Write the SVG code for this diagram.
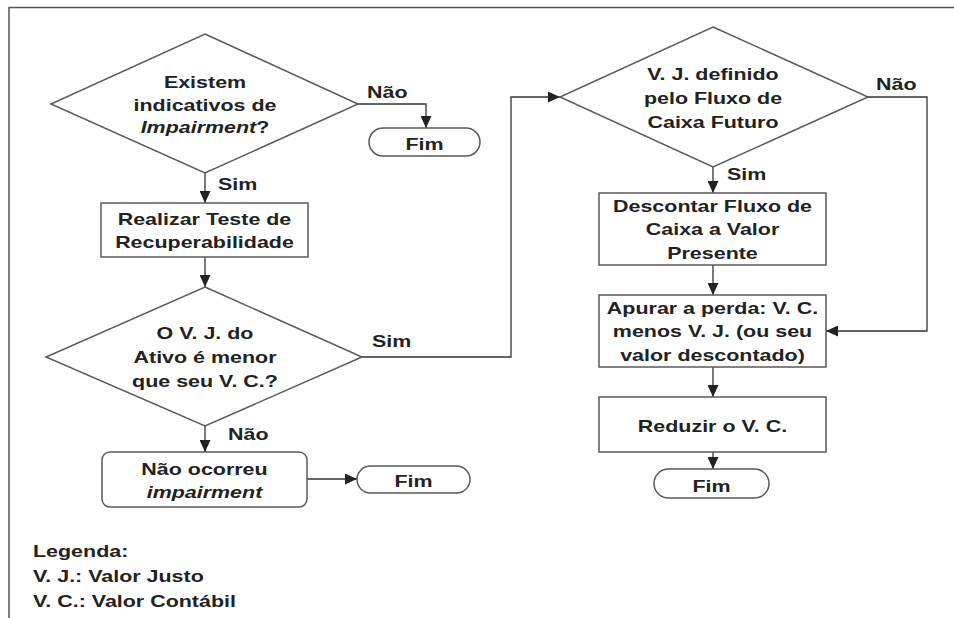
<svg xmlns="http://www.w3.org/2000/svg" width="954" height="618" viewBox="0 0 954 618">
<style>
.shape{fill:#fff;stroke:#5a5a5a;stroke-width:1.5}
.conn{fill:none;stroke:#333;stroke-width:1.3}
.t{font-family:"Liberation Sans",Arial,sans-serif;font-weight:bold;font-size:16.5px;fill:#222;text-anchor:middle}
.l{font-family:"Liberation Sans",Arial,sans-serif;font-weight:bold;font-size:16.5px;fill:#222;text-anchor:start}
.it{font-style:italic}
</style>
<defs>
<marker id="arr" markerUnits="userSpaceOnUse" markerWidth="13" markerHeight="11" refX="12" refY="5.5" orient="auto">
<path d="M0,0 L12,5.5 L0,11 z" fill="#222"/>
</marker>
</defs>
<rect width="954" height="618" fill="#fff"/>
<path d="M9,620 L9,7.5 L960,7.5" fill="none" stroke="#555" stroke-width="1.5"/>

<g id="connectors">
<path class="conn" d="M358,104 H426 V128" marker-end="url(#arr)"/>
<path class="conn" d="M205,173 V203" marker-end="url(#arr)"/>
<path class="conn" d="M205,257 V287" marker-end="url(#arr)"/>
<path class="conn" d="M362,357 H511 V97 H560" marker-end="url(#arr)"/>
<path class="conn" d="M205,426 V452" marker-end="url(#arr)"/>
<path class="conn" d="M307,479 H357" marker-end="url(#arr)"/>
<path class="conn" d="M868,97 H927 V331 H826" marker-end="url(#arr)"/>
<path class="conn" d="M713,167 V193" marker-end="url(#arr)"/>
<path class="conn" d="M713,265 V295" marker-end="url(#arr)"/>
<path class="conn" d="M713,367 V397" marker-end="url(#arr)"/>
<path class="conn" d="M713,452 V469" marker-end="url(#arr)"/>
<text class="l" transform="matrix(1.3 0 0 1 367 98)">Não</text>
<text class="l" transform="matrix(1.3 0 0 1 218 190)">Sim</text>
<text class="l" transform="matrix(1.3 0 0 1 372 347)">Sim</text>
<text class="l" transform="matrix(1.3 0 0 1 876 90)">Não</text>
<text class="l" transform="matrix(1.3 0 0 1 727 180)">Sim</text>
<text class="l" transform="matrix(1.3 0 0 1 228 440)">Não</text>
</g>

<g id="d1">
<polygon class="shape" points="205,34 358,104 205,173 51,104"/>
<text class="t" transform="matrix(1.3 0 0 1 205 88)"><tspan x="0">Existem</tspan><tspan x="0" dy="22.7">indicativos de</tspan><tspan x="0" dy="22.7"><tspan class="it">Impairment</tspan>?</tspan></text>
</g>
<g id="fim1">
<rect class="shape" x="369" y="128" width="111" height="28" rx="14"/>
<text class="t" transform="matrix(1.3 0 0 1 424.5 150)">Fim</text>
</g>
<g id="realizar">
<rect class="shape" x="101" y="203" width="207" height="54"/>
<text class="t" transform="matrix(1.3 0 0 1 204.5 225)"><tspan x="0">Realizar Teste de</tspan><tspan x="0" dy="23.5">Recuperabilidade</tspan></text>
</g>
<g id="d2">
<polygon class="shape" points="205,287 362,357 205,426 46,357"/>
<text class="t" transform="matrix(1.3 0 0 1 205 339)"><tspan x="0">O V. J. do</tspan><tspan x="0" dy="23.8">Ativo é menor</tspan><tspan x="0" dy="23.8">que seu V. C.?</tspan></text>
</g>
<g id="naoocorreu">
<rect class="shape" x="102" y="452" width="205" height="55" rx="8"/>
<text class="t" transform="matrix(1.3 0 0 1 204.5 475)"><tspan x="0">Não ocorreu</tspan><tspan x="0" dy="23.5" class="it">impairment</tspan></text>
</g>
<g id="fim2">
<rect class="shape" x="357" y="466" width="113" height="27" rx="13.5"/>
<text class="t" transform="matrix(1.3 0 0 1 413.5 487)">Fim</text>
</g>
<g id="d3">
<polygon class="shape" points="713,27 868,97 713,167 560,97"/>
<text class="t" transform="matrix(1.3 0 0 1 713 80)"><tspan x="0">V. J. definido</tspan><tspan x="0" dy="24">pelo Fluxo de</tspan><tspan x="0" dy="24">Caixa Futuro</tspan></text>
</g>
<g id="descontar">
<rect class="shape" x="599" y="193" width="227" height="72"/>
<text class="t" transform="matrix(1.3 0 0 1 712.5 212)"><tspan x="0">Descontar Fluxo de</tspan><tspan x="0" dy="23.5">Caixa a Valor</tspan><tspan x="0" dy="23.5">Presente</tspan></text>
</g>
<g id="apurar">
<rect class="shape" x="599" y="295" width="227" height="72"/>
<text class="t" transform="matrix(1.3 0 0 1 712.5 314)"><tspan x="0">Apurar a perda: V. C.</tspan><tspan x="0" dy="23.5">menos V. J. (ou seu</tspan><tspan x="0" dy="23.5">valor descontado)</tspan></text>
</g>
<g id="reduzir">
<rect class="shape" x="599" y="397" width="227" height="55"/>
<text class="t" transform="matrix(1.3 0 0 1 712.5 432)">Reduzir o V. C.</text>
</g>
<g id="fim3">
<rect class="shape" x="654" y="469" width="115" height="29" rx="14.5"/>
<text class="t" transform="matrix(1.3 0 0 1 711.5 492)">Fim</text>
</g>
<g id="legenda">
<text class="l" transform="matrix(1.3 0 0 1 33 557)">Legenda:</text>
<text class="l" transform="matrix(1.3 0 0 1 33 582)">V. J.: Valor Justo</text>
<text class="l" transform="matrix(1.3 0 0 1 33 607)">V. C.: Valor Contábil</text>
</g>
</svg>
